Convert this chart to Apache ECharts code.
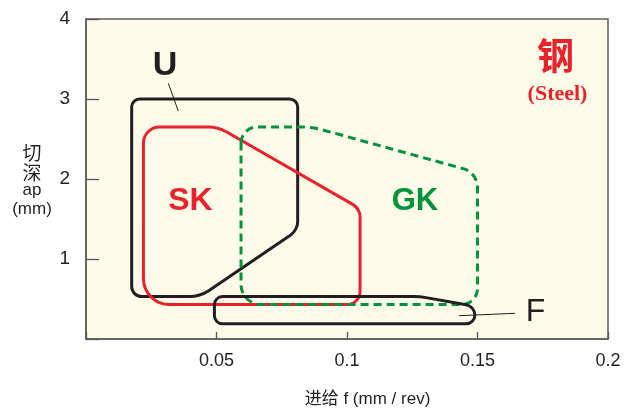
<!DOCTYPE html>
<html>
<head>
<meta charset="utf-8">
<script src="https://cdn.jsdelivr.net/npm/echarts@6/dist/echarts.min.js"></script>
<style>
html,body{margin:0;padding:0;background:#fff;}
#chart{width:631px;height:409px;}
</style>
</head>
<body>
<div id="chart"></div>
<script>
// ---- data (feed f in mm/rev, depth ap in mm) ----
const xTicks = [0, 0.05, 0.1, 0.15, 0.2];
const yTicks = [0, 1, 2, 3, 4];
const regionU  = [[0.0175, 3.0], [0.0811, 3.0], [0.0811, 1.36], [0.0437, 0.53], [0.0175, 0.53]];
const regionSK = [[0.022, 2.65], [0.0506, 2.65], [0.105, 1.63], [0.105, 0.43], [0.022, 0.43]];
const regionGK = [[0.0594, 2.65], [0.0866, 2.65], [0.150, 2.08], [0.150, 0.43], [0.0594, 0.43]];
const regionF  = [[0.0492, 0.53], [0.128, 0.53], [0.149, 0.41], [0.149, 0.19], [0.0492, 0.19]];

// ---- styles ----
const RED = '#e9212b', GREEN = '#00933f', BLACK = '#231f20';
const cornerU  = [8, 8, 8, 10, 10];
const cornerSK = [16, 10, 8, 13, 26];
const cornerGK = [16, 10, 14, 16, 20];
const cornerF  = [8, 6, 9, 9, 8];

function roundedPath(pts, radii) {
  const n = pts.length;
  let d = '';
  const k = 0.55;
  for (let i = 0; i < n; i++) {
    const P = pts[i], A = pts[(i - 1 + n) % n], B = pts[(i + 1) % n];
    const la = Math.hypot(A[0] - P[0], A[1] - P[1]);
    const lb = Math.hypot(B[0] - P[0], B[1] - P[1]);
    const r = Math.min(radii[i], la / 2, lb / 2);
    const p1 = [P[0] + r * (A[0] - P[0]) / la, P[1] + r * (A[1] - P[1]) / la];
    const p2 = [P[0] + r * (B[0] - P[0]) / lb, P[1] + r * (B[1] - P[1]) / lb];
    const c1 = [p1[0] + (P[0] - p1[0]) * k, p1[1] + (P[1] - p1[1]) * k];
    const c2 = [p2[0] + (P[0] - p2[0]) * k, p2[1] + (P[1] - p2[1]) * k];
    d += (i === 0 ? 'M' : 'L') + p1[0].toFixed(2) + ' ' + p1[1].toFixed(2) +
      ' C' + c1[0].toFixed(2) + ' ' + c1[1].toFixed(2) + ' ' + c2[0].toFixed(2) + ' ' + c2[1].toFixed(2) +
      ' ' + p2[0].toFixed(2) + ' ' + p2[1].toFixed(2) + ' ';
  }
  return d + 'Z';
}

function regionSeries(name, pts, radii, color, dash) {
  return {
    name: name,
    type: 'custom',
    data: pts,
    silent: true,
    renderItem: function (params, api) {
      if (params.dataIndex !== 0) return null;
      const px = pts.map(p => api.coord(p));
      return {
        type: 'path',
        shape: { pathData: roundedPath(px, radii) },
        style: { fill: 'none', stroke: color, lineWidth: 3, lineDash: dash || null, lineJoin: 'round' }
      };
    },
    z: 3
  };
}

const labelFont = 'Liberation Sans, Arial, Helvetica, sans-serif';
const cjkFont = '"Noto Sans CJK SC", sans-serif';

const chart = echarts.init(document.getElementById('chart'), null, { renderer: 'canvas' });
chart.setOption({
  backgroundColor: '#ffffff',
  animation: false,
  grid: {
    left: 86, right: 23, top: 19, bottom: 70,
    show: true, backgroundColor: '#fefbe9', borderColor: '#5c5d5f', borderWidth: 1.5
  },
  xAxis: {
    type: 'value', min: xTicks[0], max: xTicks[xTicks.length - 1], interval: 0.05,
    axisLine: { show: true, lineStyle: { color: '#5c5d5f', width: 1.5 } },
    axisTick: { show: true, inside: true, length: 7, lineStyle: { color: '#58595b', width: 1.3 } },
    splitLine: { show: false },
    axisLabel: {
      margin: 13, fontSize: 18, color: BLACK, fontFamily: labelFont,
      formatter: v => (v === 0 ? '' : String(v))
    }
  },
  yAxis: {
    type: 'value', min: yTicks[0], max: yTicks[yTicks.length - 1], interval: 1,
    axisLine: { show: true, lineStyle: { color: '#5c5d5f', width: 1.5 } },
    axisTick: { show: true, inside: true, length: 13, lineStyle: { color: '#58595b', width: 1.3 } },
    splitLine: { show: false },
    axisLabel: {
      margin: 16, fontSize: 19, color: BLACK, fontFamily: labelFont,
      formatter: v => (v === 0 ? '' : String(v))
    }
  },
  series: [
    regionSeries('U', regionU, cornerU, BLACK),
    regionSeries('SK', regionSK, cornerSK, RED),
    regionSeries('GK', regionGK, cornerGK, GREEN, [8, 5]),
    regionSeries('F', regionF, cornerF, BLACK)
  ],
  graphic: [
    { type: 'text', x: 165, y: 66, style: { text: 'U', fontSize: 34, fontWeight: 'bold', fontFamily: labelFont, fill: BLACK, align: 'center', verticalAlign: 'middle' }, z: 10 },
    { type: 'line', shape: { x1: 168.3, y1: 83.3, x2: 178.3, y2: 111 }, style: { stroke: BLACK, lineWidth: 1 }, z: 10 },
    { type: 'text', x: 190.5, y: 201, style: { text: 'SK', fontSize: 32, fontWeight: 'bold', fontFamily: labelFont, fill: RED, align: 'center', verticalAlign: 'middle' }, z: 10 },
    { type: 'text', x: 415, y: 201, style: { text: 'GK', fontSize: 31, fontWeight: 'bold', fontFamily: labelFont, fill: GREEN, align: 'center', verticalAlign: 'middle' }, z: 10 },
    { type: 'text', x: 535.5, y: 312.5, style: { text: 'F', fontSize: 32, fontFamily: labelFont, fill: BLACK, align: 'center', verticalAlign: 'middle' }, z: 10 },
    { type: 'line', shape: { x1: 459, y1: 315.7, x2: 515, y2: 313.3 }, style: { stroke: BLACK, lineWidth: 1 }, z: 10 },
    { type: 'text', x: 555.5, y: 56, style: { text: '钢', fontSize: 37, fontWeight: 'bold', fontFamily: cjkFont, fill: RED, align: 'center', verticalAlign: 'middle' }, z: 10 },
    { type: 'text', x: 557.5, y: 94, style: { text: '(Steel)', fontSize: 22, fontWeight: 'bold', fontFamily: 'Liberation Serif, "Times New Roman", serif', fill: RED, align: 'center', verticalAlign: 'middle' }, z: 10 },
    { type: 'text', x: 32, y: 153, style: { text: '切', fontSize: 19, fontFamily: cjkFont, fill: BLACK, align: 'center', verticalAlign: 'middle' }, z: 10 },
    { type: 'text', x: 32, y: 172.5, style: { text: '深', fontSize: 19, fontFamily: cjkFont, fill: BLACK, align: 'center', verticalAlign: 'middle' }, z: 10 },
    { type: 'text', x: 32, y: 190, style: { text: 'ap', fontSize: 17, fontFamily: labelFont, fill: BLACK, align: 'center', verticalAlign: 'middle' }, z: 10 },
    { type: 'text', x: 32, y: 209, style: { text: '(mm)', fontSize: 17, fontFamily: labelFont, fill: BLACK, align: 'center', verticalAlign: 'middle' }, z: 10 },
    { type: 'text', x: 367.5, y: 399, style: { text: '进给 f (mm / rev)', fontSize: 17, fontFamily: labelFont + ', ' + cjkFont, fill: BLACK, align: 'center', verticalAlign: 'middle' }, z: 10 }
  ]
});
</script>
</body>
</html>
